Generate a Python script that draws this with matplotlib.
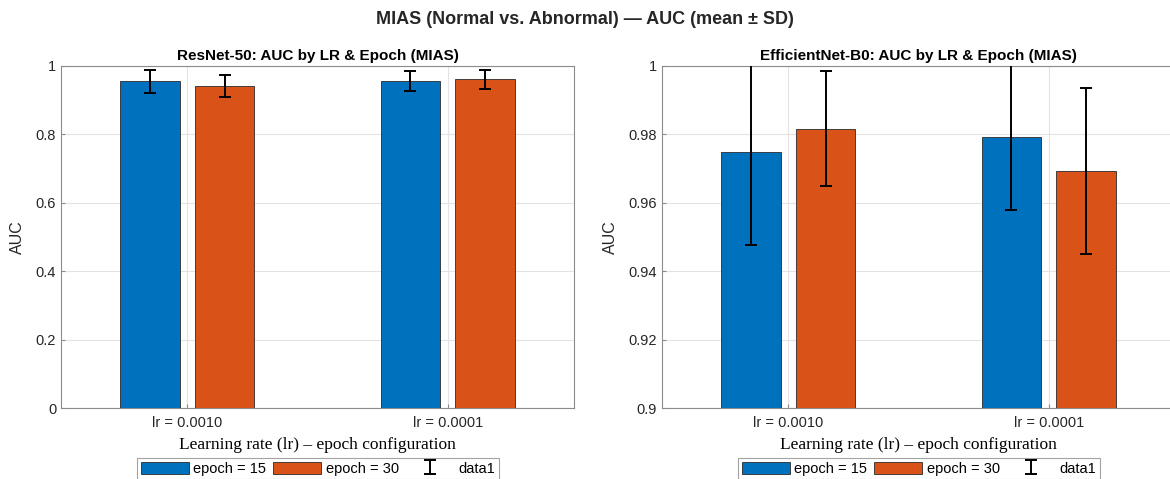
import matplotlib
matplotlib.use("Agg")
import matplotlib.pyplot as plt
from matplotlib.ticker import FuncFormatter
import numpy as np

plt.rcParams['font.family'] = ['Liberation Sans', 'DejaVu Sans']

# data
groups = ["lr = 0.0010", "lr = 0.0001"]
series = ["epoch = 15", "epoch = 30"]
resnet_mean = [[0.954, 0.955], [0.941, 0.960]]   # [series][group]
resnet_sd = [[0.033, 0.029], [0.031, 0.027]]
effnet_mean = [[0.9749, 0.9791], [0.9816, 0.9692]]
effnet_sd = [[0.0272, 0.0212], [0.0168, 0.0243]]
colors = ["#0072BD", "#D95319"]

fig = plt.figure(figsize=(11.7, 4.79), dpi=100)
W, H = 1170, 479

def px_axes(x0, y_top, w, h):
    return fig.add_axes([x0 / W, 1 - (y_top + h) / H, w / W, h / H])

# right panel runs past the canvas edge (cropped like the original)
ax1 = px_axes(61, 65.7, 513, 342.3)
ax2 = px_axes(662, 65.7, 530, 342.3)

txt = '#262626'
gfmt = FuncFormatter(lambda v, p: ('%g' % round(v, 4)))

def draw(ax, means, sds, title, ylim, yticks, wpx):
    x = np.arange(1, len(groups) + 1)
    offs = [-0.1429, 0.1429]
    width = 0.2286
    allx, ally, alle = [], [], []
    for i in range(len(series)):
        ax.bar(x + offs[i], means[i], width, color=colors[i], edgecolor='#2a2a2a',
               linewidth=0.6, label=series[i], zorder=3)
        allx += list(x + offs[i])
        ally += list(means[i])
        alle += list(sds[i])
    ax.errorbar(allx, ally, yerr=alle, fmt='none', ecolor='black', elinewidth=1.4,
                capsize=4.5, capthick=1.4, label='data1', zorder=4)
    ax.set_xlim(0.515, 0.515 + 1.97 * wpx / 513)
    ax.set_ylim(*ylim)
    ax.set_yticks(yticks)
    ax.yaxis.set_major_formatter(gfmt)
    ax.set_xticks(x)
    ax.set_xticklabels(groups)
    ax.grid(True, color='#e3e3e3', linewidth=0.8, zorder=0)
    ax.set_axisbelow(True)
    for s in ax.spines.values():
        s.set_color('#8c8c8c')
        s.set_linewidth(0.8)
    ax.tick_params(direction='in', length=3, color='#8c8c8c', labelsize=10.5,
                   labelcolor=txt, top=False, right=False)
    ax.tick_params(axis='x', pad=6)
    ax.set_title(title, fontsize=11, fontweight='bold', pad=4, color='black')
    ax.set_ylabel('AUC', fontsize=11.5, color=txt, labelpad=8)
    ax.set_xlabel('Learning rate (lr) \u2013 epoch configuration',
                  family=['Liberation Serif', 'DejaVu Serif'], fontsize=12.5,
                  color='black', labelpad=4)
    ax.xaxis.set_label_coords(513 / 2 / wpx, -0.085)
    return ax

draw(ax1, resnet_mean, resnet_sd, 'ResNet-50: AUC by LR & Epoch (MIAS)',
     (0, 1), np.arange(0, 1.01, 0.2), 513)
draw(ax2, effnet_mean, effnet_sd, 'EfficientNet-B0: AUC by LR & Epoch (MIAS)',
     (0.9, 1), np.arange(0.9, 1.001, 0.02), 530)
ax2.title.set_position((513 / 2 / 530, 1.0))

for ax, cx in [(ax1, 318), (ax2, 919)]:
    leg = ax.legend(loc='upper center', bbox_to_anchor=(cx / W, 1 - 458 / H),
                    bbox_transform=fig.transFigure, ncol=3, fontsize=10.5,
                    frameon=True, fancybox=False, edgecolor='#8c8c8c',
                    handlelength=3.3, handleheight=0.9, handletextpad=0.3,
                    columnspacing=0.5, borderpad=0.25, borderaxespad=0)
    leg.get_frame().set_linewidth(0.8)

fig.text(0.5, 1 - 20 / H, 'MIAS (Normal vs. Abnormal) \u2014 AUC (mean \u00b1 SD)',
         ha='center', va='center', fontsize=13, fontweight='bold', color=txt)

fig.savefig('out.png', dpi=100)
